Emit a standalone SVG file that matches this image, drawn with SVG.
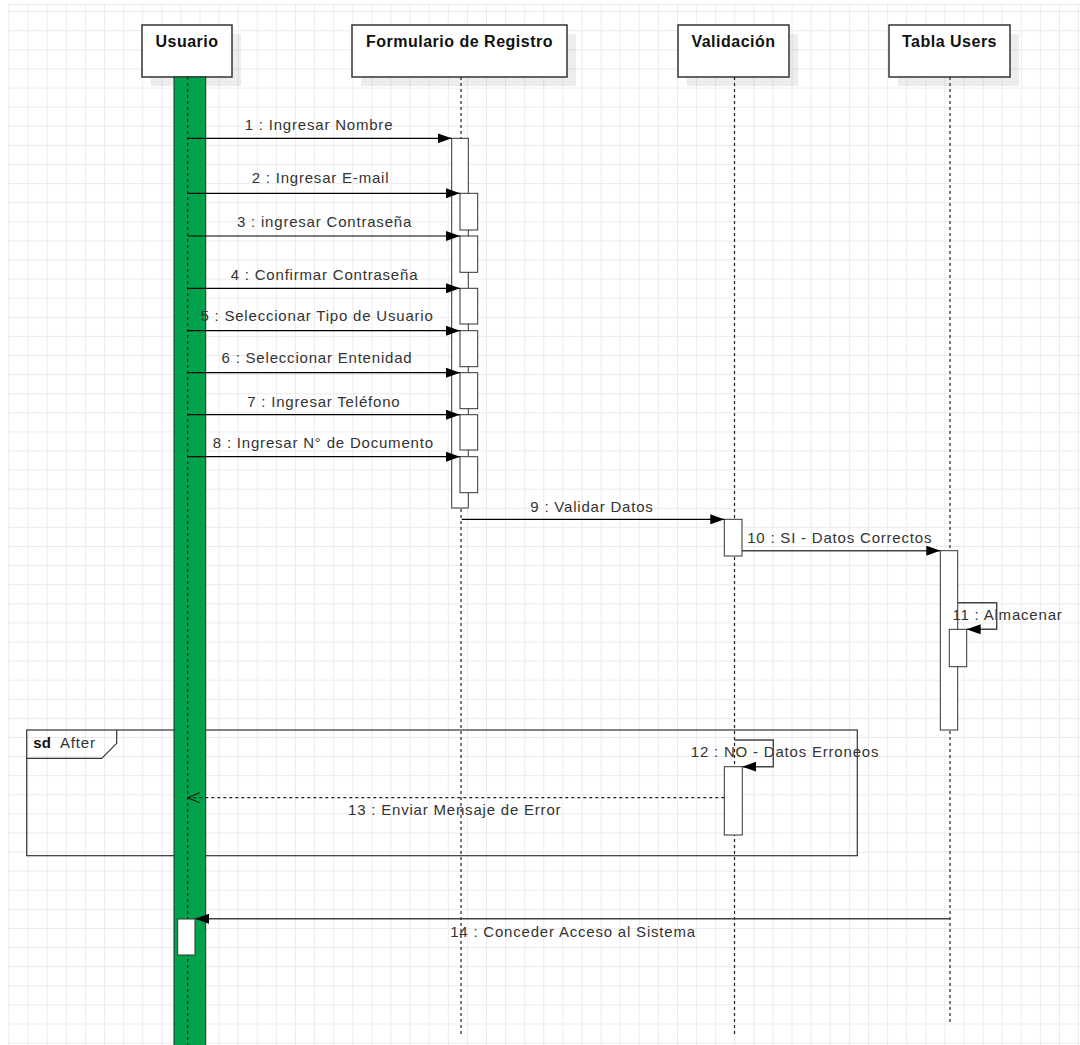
<svg xmlns="http://www.w3.org/2000/svg" width="1080" height="1045" viewBox="0 0 1080 1045">
  <defs>
    <pattern id="grid" x="8.5" y="11.2" width="19.1" height="19.1" patternUnits="userSpaceOnUse">
      <path d="M0 0.5H19.1M0.5 0V19.1" stroke="#ebebeb" stroke-width="1" fill="none"/>
    </pattern>
    <marker id="solid" markerWidth="14" markerHeight="10" refX="14" refY="5" orient="auto" markerUnits="userSpaceOnUse">
      <path d="M0,0 L14,5 L0,10 Z" fill="#000"/>
    </marker>
    <marker id="open" markerWidth="14" markerHeight="12" refX="13" refY="6" orient="auto" markerUnits="userSpaceOnUse">
      <path d="M1,1 L13,6 L1,11" fill="none" stroke="#000" stroke-width="1"/>
    </marker>
    <style>
      .hdr { fill: #fff; stroke: #333; stroke-width: 1.5; }
      .shadow { fill: #000; opacity: 0.07; }
      .title { font-family: "Liberation Sans", Arial, sans-serif; font-size: 16px; font-weight: bold; letter-spacing: 0.5px; fill: #111; text-anchor: middle; }
      .life { stroke: #222; stroke-width: 1.2; stroke-dasharray: 3 3; fill: none; }
      .act { fill: #fff; stroke: #333; stroke-width: 1; }
      .lbl { font-family: "Liberation Sans", Arial, sans-serif; font-size: 15px; letter-spacing: 0.8px; fill: #333; text-anchor: middle; }
      .msg { stroke: #000; stroke-width: 1.2; fill: none; marker-end: url(#solid); }
      .msg2 { stroke: #444; stroke-width: 1.4; fill: none; marker-end: url(#solid); }
      .ret { stroke: #222; stroke-width: 1.2; stroke-dasharray: 3 3; fill: none; marker-end: url(#open); }
      .frame { fill: none; stroke: #333; stroke-width: 1.2; }
    </style>
  </defs>

  <!-- canvas -->
  <rect width="1080" height="1045" fill="#fff"/>
  <rect x="8" y="4" width="1072" height="1041" fill="url(#grid)"/>
  <line x1="8" y1="4.5" x2="1080" y2="4.5" stroke="#ebebeb"/>

  <!-- combined fragment -->
  <g id="fragment-after">
    <rect class="frame" x="26.7" y="730" width="830.6" height="125.7"/>
    <path class="frame" d="M26.7,758.3 H101.7 L116.7,743.3 V730"/>
    <text x="33.3" y="748.3" font-family="Liberation Sans, Arial, sans-serif" font-size="15" fill="#111"><tspan font-weight="bold">sd</tspan><tspan x="60" letter-spacing="0.8" fill="#333">After</tspan></text>
  </g>

  <!-- actor lifeline (green) -->
  <g id="usuario">
    <rect class="shadow" x="151" y="34" width="90" height="52"/>
    <rect class="hdr" x="142" y="25" width="90" height="52"/>
    <text class="title" x="187" y="46.7">Usuario</text>
    <rect x="174" y="77" width="31.7" height="975" fill="#00a34c" stroke="#2a2a2a" stroke-width="1"/>
    <line class="life" x1="187.7" y1="77" x2="187.7" y2="1045"/>
    <rect class="act" x="177.7" y="919" width="17.3" height="36"/>
  </g>

  <g id="formulario">
    <rect class="shadow" x="361" y="34" width="215" height="52"/>
    <rect class="hdr" x="352" y="25" width="215" height="52"/>
    <text class="title" x="459.5" y="46.7">Formulario de Registro</text>
    <line class="life" x1="461" y1="77" x2="461" y2="1037"/>
    <rect class="act" x="451.7" y="138.3" width="16.6" height="369.7"/>
    <rect class="act" x="460" y="193.3" width="17.7" height="36.7"/>
    <rect class="act" x="460" y="236" width="17.7" height="36.3"/>
    <rect class="act" x="460" y="288.3" width="17.7" height="35.7"/>
    <rect class="act" x="460" y="330.7" width="17.7" height="36"/>
    <rect class="act" x="460" y="372.7" width="17.7" height="36"/>
    <rect class="act" x="460" y="414.7" width="17.7" height="35.3"/>
    <rect class="act" x="460" y="456.7" width="17.7" height="36"/>
  </g>

  <g id="validacion">
    <rect class="shadow" x="687" y="34" width="111" height="52"/>
    <rect class="hdr" x="678" y="25" width="111" height="52"/>
    <text class="title" x="733.5" y="46.7">Validación</text>
    <line class="life" x1="734.5" y1="77" x2="734.5" y2="1037"/>
    <rect class="act" x="724.3" y="519.3" width="17.7" height="36.7"/>
    <rect class="act" x="724.3" y="766.7" width="18" height="68.3"/>
  </g>

  <g id="tabla-users">
    <rect class="shadow" x="898" y="34" width="121" height="52"/>
    <rect class="hdr" x="889" y="25" width="121" height="52"/>
    <text class="title" x="949.5" y="46.7">Tabla Users</text>
    <line class="life" x1="950" y1="77" x2="950" y2="1022"/>
    <rect class="act" x="940.3" y="550.7" width="17.4" height="179.3"/>
    <rect class="act" x="949.3" y="629.3" width="17.4" height="37.4"/>
  </g>

  <!-- message labels -->
  <g id="labels">
    <text class="lbl" x="319" y="130">1 : Ingresar Nombre</text>
    <text class="lbl" x="320.5" y="183.3">2 : Ingresar E-mail</text>
    <text class="lbl" x="324.5" y="227.3">3 : ingresar Contraseña</text>
    <text class="lbl" x="324.5" y="280">4 : Confirmar Contraseña</text>
    <text class="lbl" x="317" y="320.7">5 : Seleccionar Tipo de Usuario</text>
    <text class="lbl" x="317" y="362.7">6 : Seleccionar Entenidad</text>
    <text class="lbl" x="323.8" y="406.7">7 : Ingresar Teléfono</text>
    <text class="lbl" x="323.3" y="448.3">8 : Ingresar N° de Documento</text>
    <text class="lbl" x="592" y="511.7">9 : Validar Datos</text>
    <text class="lbl" x="839.7" y="542.7">10 : SI - Datos Correctos</text>
    <text class="lbl" x="1007.5" y="620">11 : Almacenar</text>
    <text class="lbl" x="785" y="756.7">12 : NO - Datos Erroneos</text>
    <text class="lbl" x="454.7" y="815">13 : Enviar Mensaje de Error</text>
    <text class="lbl" x="573" y="936.7">14 : Conceder Acceso al Sistema</text>
  </g>

  <!-- messages -->
  <g id="connectors">
    <line class="msg" x1="187.7" y1="138.3" x2="451.7" y2="138.3"/>
    <line class="msg" x1="187.7" y1="193.3" x2="460" y2="193.3"/>
    <line class="msg" x1="187.7" y1="236" x2="460" y2="236"/>
    <line class="msg" x1="187.7" y1="288.3" x2="460" y2="288.3"/>
    <line class="msg" x1="187.7" y1="330.7" x2="460" y2="330.7"/>
    <line class="msg" x1="187.7" y1="372.7" x2="460" y2="372.7"/>
    <line class="msg" x1="187.7" y1="414.7" x2="460" y2="414.7"/>
    <line class="msg" x1="187.7" y1="456.7" x2="460" y2="456.7"/>
    <line class="msg" x1="461.7" y1="519.3" x2="724.3" y2="519.3"/>
    <line class="msg2" x1="742" y1="550.7" x2="940.3" y2="550.7"/>
    <path class="msg2" d="M957.7,602.7 H996.7 V629.3 H966.7"/>
    <path class="msg2" d="M734.5,740 H773.3 V766.7 H742.3"/>
    <line class="ret" x1="724.3" y1="797.7" x2="187.7" y2="797.7"/>
    <line class="msg2" x1="950" y1="918.7" x2="195" y2="918.7" stroke="#666" stroke-width="1.8"/>
  </g>
</svg>
